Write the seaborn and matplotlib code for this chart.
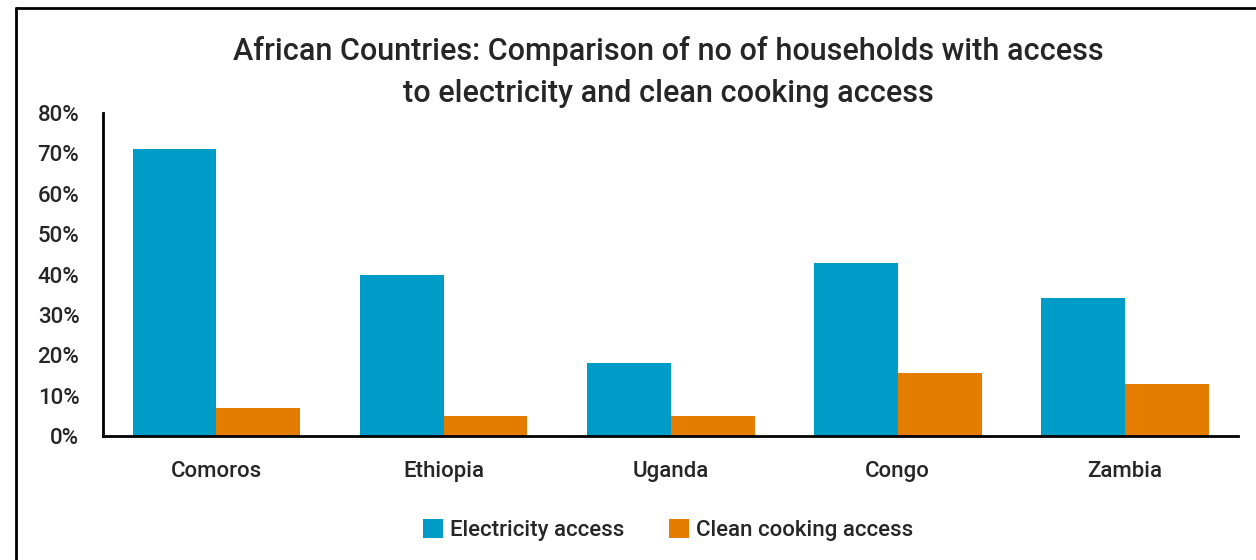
import pandas as pd
import matplotlib.pyplot as plt
import seaborn as sns
from matplotlib.lines import Line2D
from matplotlib.ticker import PercentFormatter

countries = ['Comoros', 'Ethiopia', 'Uganda', 'Congo', 'Zambia']
electricity = [71.2, 40.0, 18.0, 42.9, 34.3]
clean_cooking = [7.0, 5.0, 5.0, 15.6, 12.9]
series_names = ['Electricity access', 'Clean cooking access']
colors = ['#009CC8', '#E47C00']

df = pd.DataFrame({
    'country': countries * 2,
    'value': electricity + clean_cooking,
    'series': [series_names[0]] * len(countries) + [series_names[1]] * len(countries),
})

sns.set_style('white')
plt.rcParams['font.family'] = ['Roboto', 'DejaVu Sans']
plt.rcParams['font.weight'] = 'medium'

fig = plt.figure(figsize=(12.56, 5.6), dpi=100)
ax = fig.add_axes([0.082, 0.2214, 0.9037, 0.5768])

sns.barplot(data=df, x='country', y='value', hue='series', palette=colors,
            width=0.74, gap=0, saturation=1, ax=ax, linewidth=0)

ax.set_ylim(0, 80)
ax.set_xlim(-0.5, 4.5)
ax.set_yticks(range(0, 81, 10))
ax.yaxis.set_major_formatter(PercentFormatter(decimals=0))
ax.set_xlabel('')
ax.set_ylabel('')
ax.tick_params(axis='y', length=0, pad=17, labelsize=16)
ax.tick_params(axis='x', length=0, pad=18, labelsize=16)
for side in ['top', 'right']:
    ax.spines[side].set_visible(False)
for side in ['left', 'bottom']:
    ax.spines[side].set_color('black')
    ax.spines[side].set_linewidth(2)

fig.text(0.532, 0.872,
         'African Countries: Comparison of no of households with access\nto electricity and clean cooking access',
         ha='center', va='center', fontsize=22, linespacing=1.55, fontweight='medium')

ax.legend(loc='center', bbox_to_anchor=(0.532, 0.053), bbox_transform=fig.transFigure,
          ncol=2, frameon=False, fontsize=16, handlelength=0.9, handleheight=0.9,
          handletextpad=0.3, columnspacing=2.0)

# outer frame (left and top edges visible in the original)
fig.add_artist(Line2D([0.0125, 0.0125], [0, 0.986], transform=fig.transFigure, color='black', lw=2))
fig.add_artist(Line2D([0.0125, 1.0], [0.986, 0.986], transform=fig.transFigure, color='black', lw=2))

fig.savefig('out.png', dpi=100)
